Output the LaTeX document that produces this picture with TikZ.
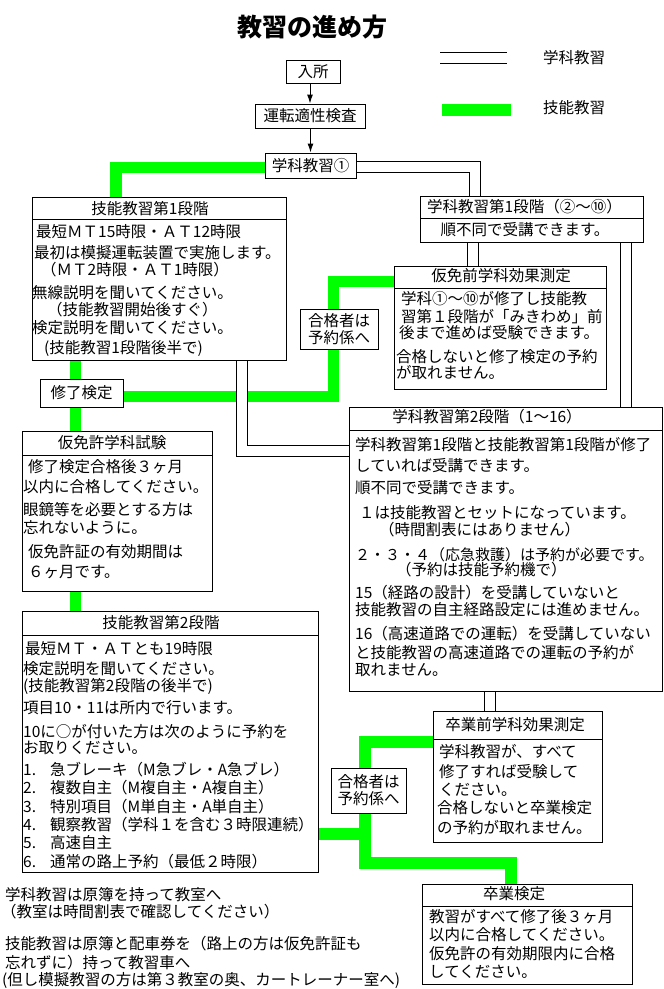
\documentclass[tikz,border=0pt]{standalone}
\usepackage{fontspec}
\setmainfont{Noto Sans CJK JP}
\usetikzlibrary{arrows.meta}
\usetikzlibrary{backgrounds}
\definecolor{skillgreen}{RGB}{0,255,0}
\tikzset{
  box/.style={draw, line width=1pt, fill=white, inner sep=0pt},
  smallbox/.style={box, font=\fontsize{15.5}{17}\selectfont, align=center},
  txt/.style={font=\fontsize{15.5}{17}\selectfont, inner sep=0pt, anchor=west},
  study/.style={draw, double, double distance=10pt, line width=1pt},
  skill/.style={draw=skillgreen, line width=11.5pt},
}
\newcommand{\headbox}[6]{ \node[box, anchor=north west, minimum width=#4, minimum height=#5] (#1) at ( #2 , #3 ){}; \draw[line width=1pt] (#1.north west) ++(0,#6) -- ++(#4,0);}
\newcommand{\tline}[4]{ \node[txt] (#1) at ( #2 , #3 ){#4};}
\begin{document}
\begin{tikzpicture}[x=1pt,y=-1pt]
        \useasboundingbox (0,0) rectangle (664,989);
        % title
        \node[font=\fontsize{25}{28}\selectfont\bfseries, inner sep=0pt] (title) at (312,27) {教習の進め方};
        % legend
        \node[txt] (legA) at (543,58) {学科教習};
        \node[txt] (legB) at (543,108) {技能教習};
        \draw[study] ([xshift=-103]legA.west) -- ([xshift=-36]legA.west);
        \draw[skill, line width=12pt] ([xshift=-101,yshift=-2]legB.west) -- ([xshift=-32,yshift=-2]legB.west);

        % top
        \node[smallbox, minimum width=54, minimum height=23] (nyuusho) at (313,71.5) {入所};
        \node[smallbox, minimum width=110, minimum height=24] (unten) at (310,116) {運転適性検査};
        \node[smallbox, minimum width=91, minimum height=25] (gaku0) at (310.5,165.5) {学科教習①};
        \draw[line width=1pt, -{Latex[length=9pt,width=6pt]}] (unten.north |- nyuusho.south) -- (unten.north);
        \draw[line width=1pt, -{Latex[length=9pt,width=6pt]}] (gaku0.north |- unten.south) -- (gaku0.north);

        % boxes
        \headbox{gino1}{32}{197}{254}{163}{22}
        \headbox{gakuA}{420}{196}{223}{46}{22}
        \headbox{karimae}{394}{266}{212}{123}{22}
        \headbox{gaku2}{349}{407}{313}{284}{23}
        \headbox{karimen}{22}{431}{190}{160}{24}
        \headbox{gino2}{22}{611}{296}{261}{24}
        \headbox{sotsumae}{433}{711}{169}{131}{28}
        \headbox{sotsu}{422}{884}{210}{100}{22}
        \node[smallbox, minimum width=83, minimum height=28] (shuuryo) at (81.5,393) {修了検定};
        \node[smallbox, minimum width=78, minimum height=40] (gokaku1) at (339,329) {合格者は\\予約係へ};
        \node[smallbox, minimum width=75, minimum height=45] (gokaku2) at (368.5,790.5) {合格者は\\予約係へ};

        % connectors
        \coordinate (skx) at (75.5,0);
        \coordinate (s1) at ([xshift=52.5]gakuA.south west);
        \coordinate (s2) at ([xshift=205.5]gakuA.south west);
        \coordinate (s3) at ([xshift=210]gino1.south west);
        \coordinate (s4) at ([xshift=140.5]gaku2.south west);
        \begin{scope}[on background layer]
        \draw[skill] ([yshift=-2]gaku0.west) -| ([xshift=84]gino1.north west);
        \draw[skill] (skx |- gino1.south) -- (skx |- shuuryo.north);
        \draw[skill] (skx |- shuuryo.south) -- (skx |- karimen.north);
        \draw[skill] (skx |- karimen.south) -- (skx |- gino2.north);
        \draw[skill] ([yshift=-3.5]shuuryo.east) -| ([xshift=-5.5]gokaku1.south);
        \draw[skill] ([xshift=-5.5]gokaku1.north) |- ([yshift=-15.5]karimae.north west);
        \draw[skill] ([yshift=-31]sotsumae.north west) -| ([xshift=-3.5]gokaku2.north);
        \draw[skill] ([xshift=-3.5]gokaku2.south) |- ([xshift=-16.5,yshift=21]sotsu.north) -- ([xshift=-16.5]sotsu.north);
        \draw[skill] ([yshift=-223]gino2.north east) -| ([xshift=-3.5]gokaku2.south);

        \draw[study] ([yshift=-1.5]gaku0.east) -| ([xshift=55]gakuA.north west);
        \draw[study] (s1) -- (s1 |- karimae.north);
        \draw[study] (s2) -- (s2 |- gaku2.north);
        \draw[study] (s3) |- ([yshift=-44]gaku2.north west);
        \draw[study] (s4) -- (s4 |- sotsumae.north);
        \end{scope}

        % box titles
        \node[txt, anchor=center] (gino1t) at (150,209) {技能教習第1段階};
        \node[txt, anchor=center] (gakuAt) at (524.5,207) {学科教習第1段階（②～⑩）};
        \node[txt, anchor=center] (karimaet) at (501,276) {仮免前学科効果測定};
        \node[txt, anchor=center] (gaku2t) at (487,417) {学科教習第2段階（1～16）};
        \node[txt, anchor=center] (karimient) at (112,443) {仮免許学科試験};
        \node[txt, anchor=center] (gino2t) at (161,623) {技能教習第2段階};
        \node[txt, anchor=center] (sotsumaet) at (515,725) {卒業前学科効果測定};
        \node[txt, anchor=center] (sotsut) at (514,894) {卒業検定};

        % text gino1
        \tline{g1a}{36}{232}{最短ＭＴ15時限・ＡＴ12時限}
        \tline{g1b}{34}{253}{最初は模擬運転装置で実施します。}
        \tline{g1c}{41}{270}{（ＭＴ2時限・ＡＴ1時限）}
        \tline{g1d}{32}{293}{無線説明を聞いてください。}
        \tline{g1e}{47}{310}{（技能教習開始後すぐ）}
        \tline{g1f}{32}{328}{検定説明を聞いてください。}
        \tline{g1g}{44}{348}{(技能教習1段階後半で)}

        % text gakuA
        \node[txt, anchor=center] (gAa) at (525,230) {順不同で受講できます。};

        % text karimae
        \tline{kma}{401}{299}{学科①～⑩が修了し技能教}
        \tline{kmb}{401}{317}{習第１段階が「みきわめ」前}
        \tline{kmc}{399}{333}{後まで進めば受験できます。}
        \tline{kmd}{396}{357}{合格しないと修了検定の予約}
        \tline{kme}{396}{373}{が取れません。}

        % text karimen
        \tline{kna}{28}{467}{修了検定合格後３ヶ月}
        \tline{knb}{23}{487}{以内に合格してください。}
        \tline{knc}{23}{510}{眼鏡等を必要とする方は}
        \tline{knd}{23}{527}{忘れないように。}
        \tline{kne}{28}{552}{仮免許証の有効期間は}
        \tline{knf}{28}{572}{６ヶ月です。}

        % text gaku2
        \tline{g2a}{355}{445}{学科教習第1段階と技能教習第1段階が修了}
        \tline{g2b}{355}{466}{していれば受講できます。}
        \tline{g2c}{355}{488}{順不同で受講できます。}
        \tline{g2d}{359}{513}{１は技能教習とセットになっています。}
        \tline{g2e}{379}{530}{（時間割表にはありません）}
        \tline{g2f}{355}{555}{\fontsize{15}{17}\selectfont ２・３・４（応急救護）は予約が必要です。}
        \tline{g2g}{396}{570}{（予約は技能予約機で）}
        \tline{g2h}{355}{593}{15（経路の設計）を受講していないと}
        \tline{g2i}{355}{610}{技能教習の自主経路設定には進めません。}
        \tline{g2j}{355}{634}{16（高速道路での運転）を受講していない}
        \tline{g2k}{355}{653}{と技能教習の高速道路での運転の予約が}
        \tline{g2l}{355}{670}{取れません。}

        % text gino2
        \tline{k2a}{25}{649}{最短ＭＴ・ＡＴとも19時限}
        \tline{k2b}{23}{669}{検定説明を聞いてください。}
        \tline{k2c}{23}{686}{(技能教習第2段階の後半で)}
        \tline{k2d}{23}{708}{項目10・11は所内で行います。}
        \tline{k2e}{23}{732}{10に○が付いた方は次のように予約を}
        \tline{k2f}{23}{748}{お取りください。}
        \tline{k2g}{23}{770}{\makebox[27pt][l]{1.}急ブレーキ（M急ブレ・A急ブレ）}
        \tline{k2h}{23}{788}{\makebox[27pt][l]{2.}複数自主（M複自主・A複自主）}
        \tline{k2i}{23}{807}{\makebox[27pt][l]{3.}特別項目（M単自主・A単自主）}
        \tline{k2j}{23}{825}{\makebox[27pt][l]{4.}観察教習（学科１を含む３時限連続）}
        \tline{k2k}{23}{843}{\makebox[27pt][l]{5.}高速自主}
        \tline{k2l}{23}{862}{\makebox[27pt][l]{6.}通常の路上予約（最低２時限）}

        % text sotsumae
        \tline{sma}{439}{752}{学科教習が、すべて}
        \tline{smb}{439}{772}{修了すれば受験して}
        \tline{smc}{439}{790}{ください。}
        \tline{smd}{437}{808}{合格しないと卒業検定}
        \tline{sme}{437}{828}{の予約が取れません。}

        % text sotsu
        \tline{ska}{429}{917}{教習がすべて修了後３ヶ月}
        \tline{skb}{429}{935}{以内に合格してください。}
        \tline{skc}{429}{954}{仮免許の有効期限内に合格}
        \tline{skd}{429}{972}{してください。}

        % notes
        \tline{na}{5}{895}{学科教習は原簿を持って教室へ}
        \tline{nb}{1}{912}{（教室は時間割表で確認してください）}
        \tline{nc}{5}{944}{技能教習は原簿と配車券を（路上の方は仮免許証も}
        \tline{nd}{5}{963}{忘れずに）持って教習車へ}
        \tline{ne}{2}{980}{(但し模擬教習の方は第３教室の奥、カートレーナー室へ)}
    \end{tikzpicture}
\end{document}
